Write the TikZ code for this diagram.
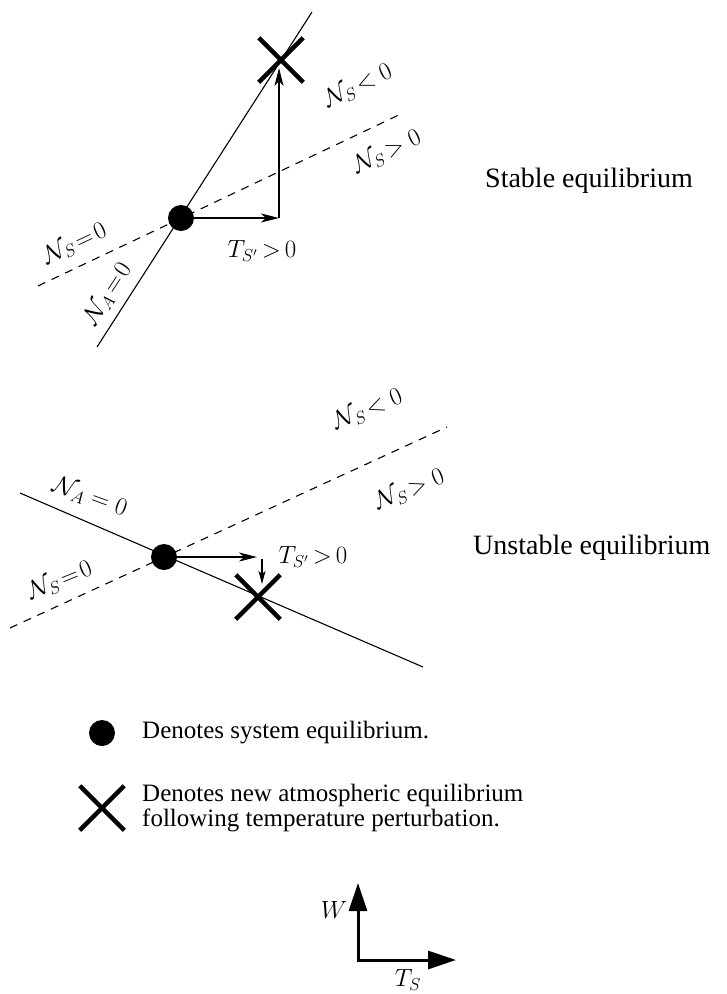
\documentclass[tikz,border=0pt]{standalone}
\usepackage{fontspec}
\setmainfont{Liberation Serif}
\usetikzlibrary{arrows.meta,shapes.misc}
\tikzset{
  thinline/.style={line width=1.1pt},
  dashline/.style={line width=1.1pt, dash pattern=on 8pt off 7pt},
  arr/.style={line width=1.1pt, -{Stealth[length=18pt,width=9pt,inset=5pt]}},
  smallarr/.style={line width=1.1pt, -{Stealth[length=13pt,width=7pt,inset=3pt]}},
  bigarr/.style={line width=3pt, -{Triangle[length=28pt,width=18pt]}},
  eqdot/.style={circle, fill=black, minimum size=26pt, inner sep=0pt},
  xmark/.style={cross out, draw=black, line width=4.5pt, minimum size=40pt, inner sep=0pt},
  lbl/.style={font=\fontsize{26}{28}\selectfont, inner sep=0pt},
  axlbl/.style={font=\fontsize{24}{26}\selectfont, inner sep=0pt},
  title/.style={font=\fontsize{28}{30}\selectfont, inner sep=0pt, anchor=west},
  txt/.style={font=\fontsize{25}{25}\selectfont, inner sep=0pt, anchor=west}
}
\begin{document}
\begin{tikzpicture}[x=1pt,y=-1pt]
\useasboundingbox (0,0) rectangle (727,994);

% ---------- Stable equilibrium ----------
\coordinate (sa1) at (97,347);
\coordinate (sa2) at (312,12);
\coordinate (ss1) at (38,286);
\coordinate (ss2) at (403,113);
\draw[thinline] (sa1) -- (sa2);
\draw[dashline] (ss1) -- (ss2);
\node[eqdot] (se) at (181,218) {};
\node[xmark] (sx) at (281,60) {};
\coordinate (st) at (279,218);
\coordinate (stop) at (279,68);
\draw[arr] (se) -- (st);
\draw[arr] (st) -- (stop);
\node[lbl, rotate=25] (sl1) at (358,86) {$\mathcal{N}_{S}\!<0$};
\node[lbl, rotate=25] (sl2) at (387,152) {$\mathcal{N}_{S}\!>0$};
\node[lbl, rotate=25] (sl3) at (75,244) {$\mathcal{N}_{S}\!=\!0$};
\node[lbl, rotate=57] (sl4) at (108,294) {$\mathcal{N}_{A}\!=\!0$};
\node[lbl] (sl5) at (262,251) {$T_{S'}\,{>}\,0$};
\node[title] (stitle) at (485,181) {Stable equilibrium};

% ---------- Unstable equilibrium ----------
\coordinate (ua1) at (20,493);
\coordinate (ua2) at (423,667);
\coordinate (us1) at (10,628);
\coordinate (us2) at (447,427);
\draw[thinline] (ua1) -- (ua2);
\draw[dashline] (us1) -- (us2);
\node[eqdot] (ue) at (164,557) {};
\node[xmark] (ux) at (258,597) {};
\coordinate (ut) at (257,557);
\coordinate (ud1) at (262,559);
\coordinate (ud2) at (262,584);
\draw[arr] (ue) -- (ut);
\draw[smallarr] (ud1) -- (ud2);
\node[lbl, rotate=22] (ul1) at (368,410) {$\mathcal{N}_{S}\!<0$};
\node[lbl, rotate=22] (ul2) at (410,490) {$\mathcal{N}_{S}\!>0$};
\node[lbl, rotate=22] (ul3) at (60,581) {$\mathcal{N}_{S}\!=\!0$};
\node[lbl, rotate=-20] (ul4) at (90,497) {$\mathcal{N}_{A}=0$};
\node[lbl] (ul5) at (313,557) {$T_{S'}\,{>}\,0$};
\node[title] (utitle) at (473,548) {Unstable equilibrium};

% ---------- Legend ----------
\node[eqdot] (ldot) at (102,733) {};
\node[txt] (ldottxt) at (142,733) {Denotes system equilibrium.};
\node[xmark] (lx) at (102,808) {};
\node[txt, align=left] (lxtxt) at (142,808) {Denotes new atmospheric equilibrium\\following temperature perturbation.};

% ---------- Axes ----------
\coordinate (ao) at (358,960);
\coordinate (aw) at (358,883);
\coordinate (at) at (456,960);
\draw[bigarr] ([yshift=1.5pt]ao) -- (aw);
\draw[bigarr] ([xshift=-1.5pt]ao) -- (at);
\node[axlbl] (wl) at (334,910) {$W$};
\node[axlbl] (tl) at (408,980) {$T_{S}$};
\end{tikzpicture}
\end{document}
